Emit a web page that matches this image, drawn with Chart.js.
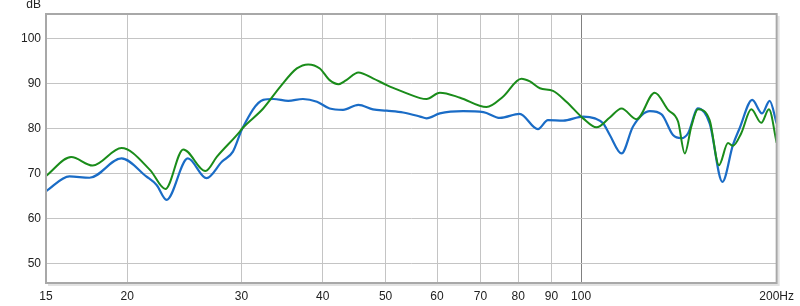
<!DOCTYPE html>
<html>
<head>
<meta charset="utf-8">
<script src="https://cdn.jsdelivr.net/npm/chart.js@4/dist/chart.umd.min.js"></script>
<style>
  html, body { margin: 0; padding: 0; background: #fff; }
  canvas { display: block; }
</style>
</head>
<body>
<canvas id="fr-chart" width="800" height="306"></canvas>
<script>
// tick labels
const xTicks = [15, 20, 30, 40, 50, 60, 70, 80, 90, 100, 200];
const yTicks = [50, 60, 70, 80, 90, 100];

// blue curve
const blueFreq = [15, 16.3, 17.5, 19.6, 21.4, 22.2, 23.0, 24.8, 26.5, 28.0, 29.1, 30.1,
  32.4, 33.6, 35.4, 37.3, 39.2, 41.0, 43.0, 45.4, 47.8, 50.2, 53.2, 56.5, 57.8,
  60.6, 65.8, 70.7, 75.0, 80.4, 85.8, 88.9, 93.8, 100.7, 105, 108.1, 110.7,
  115.4, 120.2, 127.6, 133, 138.5, 142.7, 146.1, 151.3, 157.7, 165, 171.3,
  175.4, 183.4, 189.9, 195.1, 200];
const blueDb = [66.0, 69.3, 69.0, 73.3, 69.3, 67.4, 64.1, 73.3, 68.9, 72.6, 74.8, 80.0,
  86.3, 86.5, 86.1, 86.5, 85.9, 84.4, 84.1, 85.2, 84.2, 83.9, 83.5, 82.6, 82.2,
  83.3, 83.8, 83.6, 82.3, 83.2, 79.8, 81.8, 81.7, 82.6, 82.2, 81.1, 78.5,
  74.4, 80.4, 83.8, 83.1, 78.5, 77.8, 78.9, 84.4, 81.1, 68.1, 76.3,
  80.0, 86.3, 83.3, 86.1, 81.1];

// green curve
const greenFreq = [15, 16.4, 17.7, 19.6, 21.7, 22.9, 24.4, 26.4, 27.5, 29.8, 30.1,
  32.4, 34.4, 36.5, 38.0, 39.6, 41.0, 42.3, 43.5, 45.4, 47.8, 50.2, 53.2, 56.5,
  57.8, 60.6, 65.1, 71.5, 75.8, 80.9, 83.4, 86.4, 90.5, 94.9, 100.7, 105.6,
  110.7, 115.4, 121.7, 129.8, 136.1, 141, 144.4, 147.8, 151.3, 157.7, 163,
  168.3, 171.3, 176.4, 182.8, 189.4, 194.6, 200];
const greenDb = [69.4, 73.6, 71.7, 75.6, 70.7, 66.5, 75.3, 70.5, 73.7, 79.2, 80.0,
  84.4, 89.2, 93.3, 94.2, 93.3, 90.7, 89.8, 90.7, 92.4, 91.1, 89.6, 88.1, 86.7,
  86.5, 87.9, 86.8, 84.7, 87.0, 91.0, 90.4, 88.9, 88.3, 85.9, 82.2, 80.2,
  82.4, 84.4, 82.0, 87.9, 84.1, 81.5, 74.4, 80.4, 84.2, 81.8, 71.8,
  76.7, 76.1, 78.9, 84.2, 81.2, 84.2, 76.8];

const FONT = { family: 'Liberation Sans, Arial, sans-serif', size: 12 };

function toPoints(xs, ys) {
  return xs.map((x, i) => ({ x: x, y: ys[i] }));
}

// frame round the plot + "dB" unit
const framePlugin = {
  id: 'frame',
  afterDatasetsDraw(chart) {
    const ctx = chart.ctx;
    const a = chart.chartArea;
    ctx.save();
    ctx.strokeStyle = '#e2e2e2';
    ctx.lineWidth = 2;
    ctx.beginPath();
    ctx.moveTo(a.right + 2, a.top + 2);
    ctx.lineTo(a.right + 2, a.bottom + 2);
    ctx.lineTo(a.left + 2, a.bottom + 2);
    ctx.stroke();
    ctx.strokeStyle = '#a8a8a8';
    ctx.lineWidth = 2;
    ctx.strokeRect(a.left, a.top, a.right - a.left, a.bottom - a.top);
    ctx.fillStyle = '#222';
    ctx.font = '12px ' + FONT.family;
    ctx.textAlign = 'right';
    ctx.textBaseline = 'middle';
    ctx.fillText('dB', a.left - 5, 5);
    ctx.restore();
  }
};

const canvas = document.getElementById('fr-chart');
new Chart(canvas, {
  type: 'line',
  data: {
    datasets: [
      {
        data: toPoints(greenFreq, greenDb),
        borderColor: '#1a8c1a',
        borderWidth: 2,
        pointRadius: 0,
        cubicInterpolationMode: 'monotone'
      },
      {
        data: toPoints(blueFreq, blueDb),
        borderColor: '#1a6cc6',
        borderWidth: 2.2,
        pointRadius: 0,
        cubicInterpolationMode: 'monotone'
      }
    ]
  },
  options: {
    responsive: false,
    animation: false,
    devicePixelRatio: 1,
    layout: { padding: { top: 14, right: 23, left: 0, bottom: 0 } },
    plugins: { legend: { display: false }, tooltip: { enabled: false } },
    scales: {
      x: {
        type: 'logarithmic',
        min: 15,
        max: 200,
        afterBuildTicks: axis => { axis.ticks = xTicks.map(v => ({ value: v })); },
        afterFit: scale => { scale.height = 23; },
        ticks: {
          autoSkip: false,
          maxRotation: 0,
          padding: 6,
          color: '#222',
          font: FONT,
          callback: v => v === 200 ? '200Hz' : String(v)
        },
        grid: {
          drawTicks: false,
          color: c => (c.tick && c.tick.value === 100) ? '#808080' : '#c4c4c4'
        },
        border: { display: false }
      },
      y: {
        min: 45.6,
        max: 105.4,
        afterBuildTicks: axis => { axis.ticks = yTicks.map(v => ({ value: v })); },
        afterFit: scale => { scale.width = 46; },
        ticks: { padding: 5, color: '#222', font: FONT },
        grid: { drawTicks: false, color: '#c4c4c4' },
        border: { display: false }
      }
    }
  },
  plugins: [framePlugin]
});
</script>
</body>
</html>
